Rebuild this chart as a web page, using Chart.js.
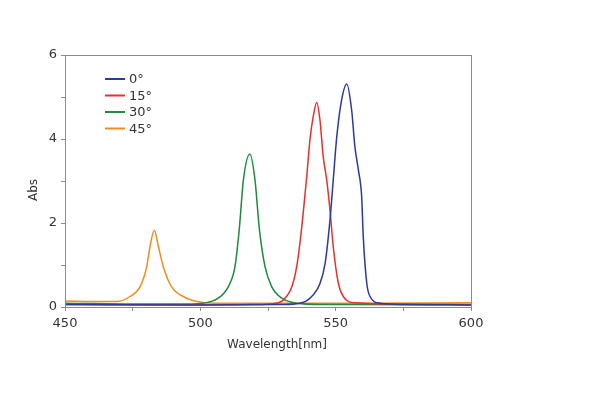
<!DOCTYPE html>
<html>
<head>
<meta charset="utf-8">
<script src="https://cdn.jsdelivr.net/npm/chart.js@4"></script>
<style>
html,body{margin:0;padding:0;background:#fff;}
#wrap{width:600px;height:400px;position:relative;}
</style>
</head>
<body>
<div id="wrap"><canvas id="c" width="600" height="400"></canvas></div>
<script>
// ---- data ----
const seriesLabels = ['0°', '15°', '30°', '45°'];
const seriesColors = ['#2b3a9f', '#e9302a', '#1f8b3d', '#f28c1e'];

const wl0  = [450, 500, 530, 536.8, 540.5, 544.2, 546.1, 547.9, 549.1, 550.4, 552.2, 554.1, 555.9, 557.1, 558.4, 559.6, 560.2, 561.5, 562.7, 566.4, 575, 600];
const abs0 = [0.06, 0.05, 0.06, 0.09, 0.21, 0.56, 1.04, 2.07, 3.02, 4.05, 4.93, 5.31, 4.69, 3.82, 3.26, 2.63, 1.67, 0.56, 0.25, 0.09, 0.06, 0.05];

const wl15  = [450, 500, 520, 527.0, 530.7, 533.8, 535.6, 536.8, 538.0, 539.3, 540.5, 541.7, 543.0, 544.2, 545.4, 546.7, 547.9, 549.1, 551.0, 552.8, 557.1, 575, 600];
const abs15 = [0.06, 0.05, 0.06, 0.08, 0.17, 0.48, 0.96, 1.52, 2.23, 3.10, 3.98, 4.53, 4.87, 4.45, 3.58, 3.02, 2.31, 1.44, 0.56, 0.25, 0.1, 0.07, 0.06];

const wl30  = [450, 480, 495, 501.1, 506.6, 510.3, 512.8, 514.4, 515.9, 518.3, 520.2, 521.8, 523.9, 526.4, 530.1, 535.6, 545, 600];
const abs30 = [0.09, 0.07, 0.07, 0.09, 0.21, 0.48, 0.96, 1.86, 3.02, 3.64, 3.02, 1.86, 0.96, 0.48, 0.21, 0.09, 0.06, 0.05];

const wl45  = [450, 460, 469.1, 474.0, 477.7, 480.2, 481.4, 483.0, 484.5, 486.3, 489.4, 493.7, 498.7, 505, 550, 600];
const abs45 = [0.14, 0.13, 0.13, 0.25, 0.48, 0.96, 1.44, 1.83, 1.44, 0.96, 0.48, 0.25, 0.13, 0.09, 0.09, 0.1];

const xTickLabels = [450, 500, 550, 600];
const yTickLabels = [0, 2, 4, 6];
const xTitle = 'Wavelength[nm]';
const yTitle = 'Abs';

// ---- build chart ----
const wls = [wl0, wl15, wl30, wl45];
const abss = [abs0, abs15, abs30, abs45];
const datasets = seriesLabels.map((lab, i) => ({
  label: lab,
  data: wls[i].map((x, j) => ({x: x, y: abss[i][j]})),
  borderColor: seriesColors[i],
  backgroundColor: seriesColors[i],
  borderWidth: 1.5,
  pointRadius: 0,
  cubicInterpolationMode: 'monotone',
  fill: false
}));

const FONT = "'DejaVu Sans', 'Noto Sans CJK JP', sans-serif";

const boxPlugin = {
  id: 'box',
  afterDraw(chart) {
    const a = chart.chartArea, ctx = chart.ctx;
    ctx.save();
    ctx.strokeStyle = '#8c8c8c';
    ctx.lineWidth = 1;
    ctx.strokeRect(Math.round(a.left) + 0.5, Math.round(a.top) + 0.5, Math.round(a.right - a.left), Math.round(a.bottom - a.top));
    ctx.restore();
  }
};

const titlesPlugin = {
  id: 'axisTitles',
  afterDraw(chart) {
    const a = chart.chartArea, ctx = chart.ctx;
    ctx.save();
    ctx.font = '12px ' + FONT;
    ctx.fillStyle = '#333';
    ctx.textAlign = 'center';
    ctx.textBaseline = 'middle';
    ctx.fillText(xTitle, (a.left + a.right) / 2 + 9, a.bottom + 38);
    ctx.translate(a.left - 31, (a.top + a.bottom) / 2 + 9);
    ctx.rotate(-Math.PI / 2);
    ctx.fillText(yTitle, 0, 0);
    ctx.restore();
  }
};

const legendPlugin = {
  id: 'innerLegend',
  afterDraw(chart) {
    const a = chart.chartArea, ctx = chart.ctx;
    ctx.save();
    ctx.font = '13px ' + FONT;
    ctx.textBaseline = 'middle';
    chart.data.datasets.forEach((ds, i) => {
      const y = a.top + 24 + i * 16.5;
      const x0 = a.left + 40;
      ctx.strokeStyle = ds.borderColor;
      ctx.lineWidth = 2;
      ctx.beginPath();
      ctx.moveTo(x0, y);
      ctx.lineTo(x0 + 20, y);
      ctx.stroke();
      ctx.fillStyle = '#333';
      ctx.fillText(ds.label, x0 + 24, y + 1);
    });
    ctx.restore();
  }
};

new Chart(document.getElementById('c'), {
  type: 'line',
  data: { datasets },
  plugins: [boxPlugin, legendPlugin, titlesPlugin],
  options: {
    responsive: false,
    animation: false,
    layout: { padding: { left: 20, right: 129, top: 55, bottom: 43 } },
    plugins: { legend: { display: false }, tooltip: { enabled: false } },
    scales: {
      x: {
        type: 'linear',
        min: 450, max: 600,
        afterFit(s) { s.height = 50; },
        ticks: {
          stepSize: 25,
          autoSkip: false,
          maxRotation: 0,
          color: '#333',
          font: { family: FONT, size: 13 },
          padding: 5,
          callback: v => xTickLabels.includes(v) ? String(v) : ''
        },
        grid: { drawOnChartArea: false, tickLength: 4, color: '#8c8c8c' },
        border: { color: '#8c8c8c' }
      },
      y: {
        min: 0, max: 6,
        afterFit(s) { s.width = 45; },
        ticks: {
          stepSize: 1,
          color: '#333',
          font: { family: FONT, size: 13 },
          padding: 4,
          callback: v => yTickLabels.includes(v) ? String(v) : ''
        },
        grid: { drawOnChartArea: false, tickLength: 4, color: '#8c8c8c' },
        border: { color: '#8c8c8c' }
      }
    }
  }
});
</script>
</body>
</html>
